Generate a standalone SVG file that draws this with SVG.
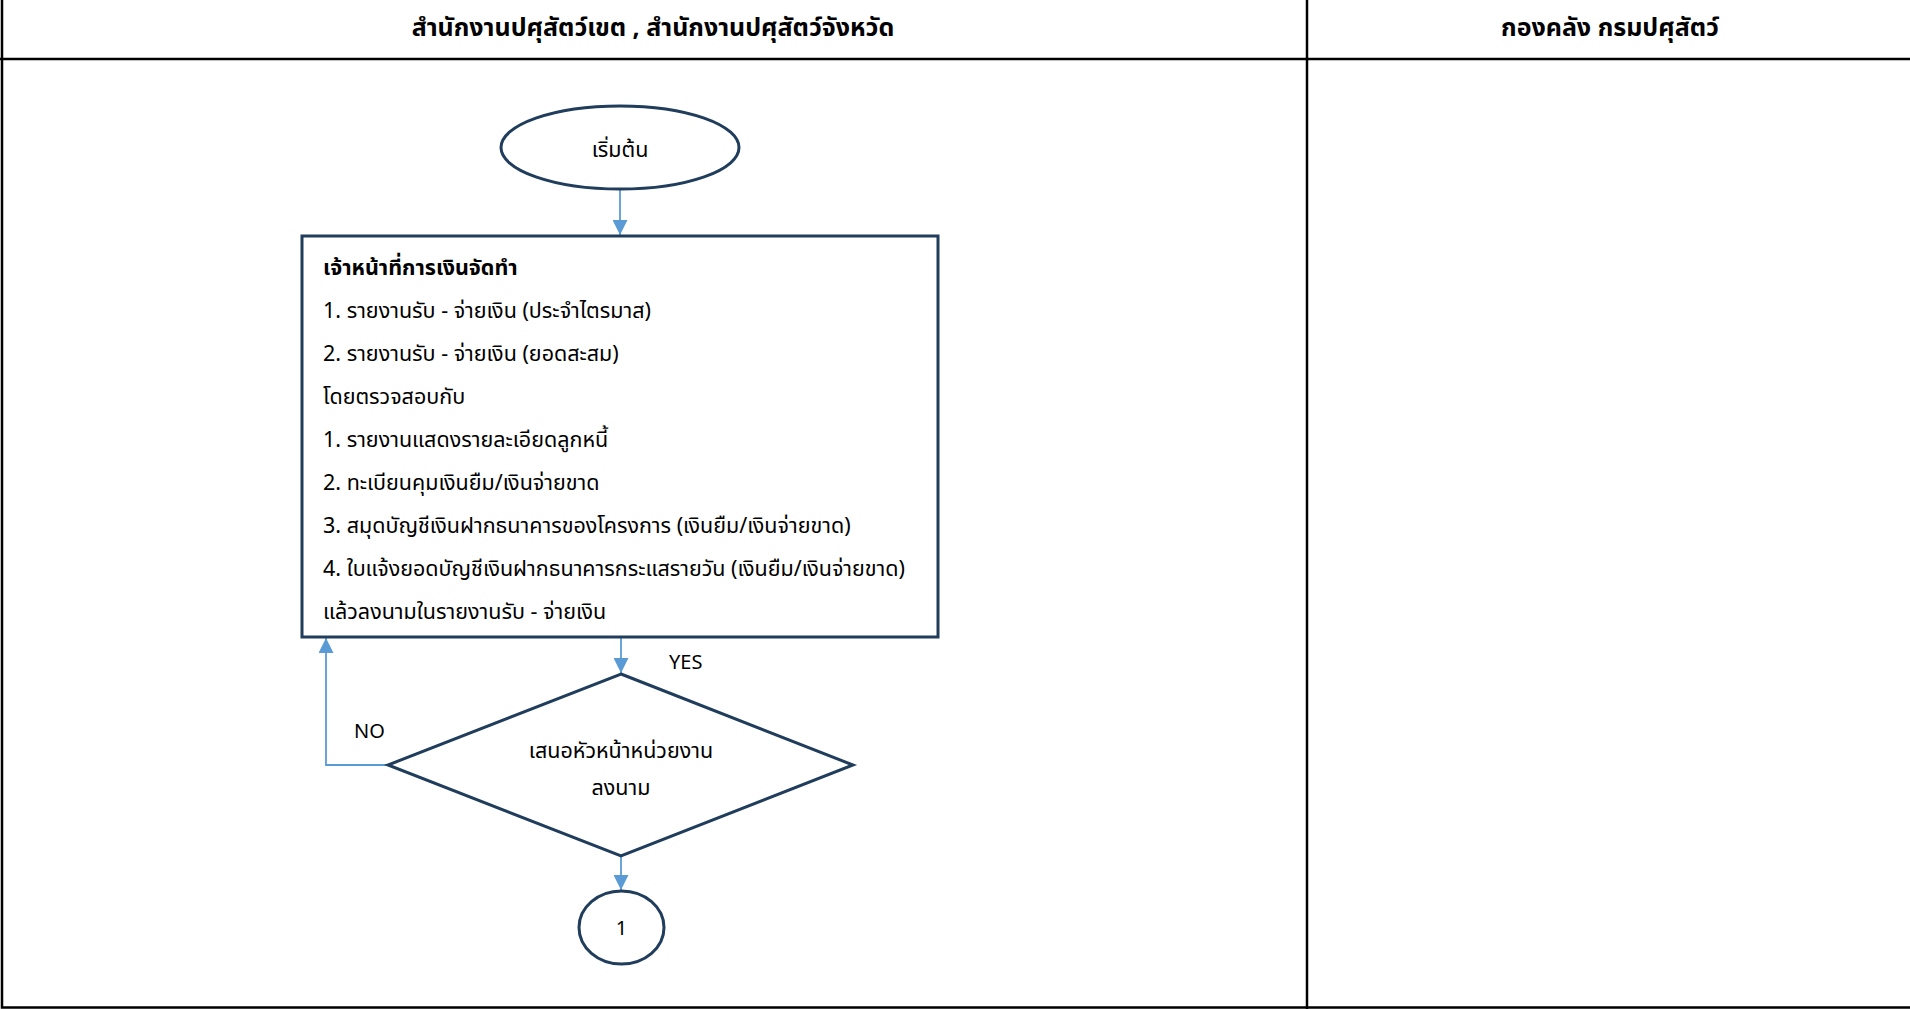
<svg xmlns="http://www.w3.org/2000/svg" width="1910" height="1009" viewBox="0 0 1910 1009">
<style>
.frame{stroke:#000;stroke-width:2.5;fill:none}
.shape{fill:#fff;stroke:#203d5c;stroke-width:3}
.conn{stroke:#5b9bd5;stroke-width:1.8;fill:none}
text{font-family:"Noto Sans","Noto Sans Thai","DejaVu Sans",sans-serif;fill:#000}
.hdr{font-size:25px;font-weight:bold;text-anchor:middle}
.t{font-size:21.5px}
.s{font-size:20px}
.c{text-anchor:middle}
.b{font-weight:bold}
</style>
<defs>
<marker id="ah" viewBox="0 0 10 10" refX="10" refY="5" markerWidth="15" markerHeight="15" markerUnits="userSpaceOnUse" orient="auto">
<path d="M0,0 L10,5 L0,10 z" fill="#5b9bd5"/>
</marker>
</defs>
<rect width="1910" height="1009" fill="#fff"/>
<g id="frame">
<polyline class="frame" points="2,0 2,1007.5 1910,1007.5"/>
<line class="frame" x1="0" y1="59" x2="1910" y2="59"/>
<line class="frame" x1="1307" y1="0" x2="1307" y2="1009"/>
<text class="hdr" x="653" y="36">สำนักงานปศุสัตว์เขต , สำนักงานปศุสัตว์จังหวัด</text>
<text class="hdr" x="1610" y="36">กองคลัง กรมปศุสัตว์</text>
</g>
<g id="connectors">
<line class="conn" x1="620" y1="189" x2="620" y2="235" marker-end="url(#ah)"/>
<line class="conn" x1="621" y1="638" x2="621" y2="673" marker-end="url(#ah)"/>
<polyline class="conn" points="388,765 326,765 326,638" marker-end="url(#ah)"/>
<line class="conn" x1="621" y1="856" x2="621" y2="890" marker-end="url(#ah)"/>
<text class="s" x="669" y="669">YES</text>
<text class="s" x="354" y="738">NO</text>
</g>
<g id="start">
<ellipse class="shape" cx="620" cy="147.5" rx="119" ry="41.5"/>
<text class="t c" x="620" y="157">เริ่มต้น</text>
</g>
<g id="process">
<rect class="shape" x="302" y="236" width="636" height="401"/>
<text class="t b" x="323" y="275">เจ้าหน้าที่การเงินจัดทำ</text>
<text class="t" x="323" y="318">1. รายงานรับ - จ่ายเงิน (ประจำไตรมาส)</text>
<text class="t" x="323" y="361">2. รายงานรับ - จ่ายเงิน (ยอดสะสม)</text>
<text class="t" x="323" y="404">โดยตรวจสอบกับ</text>
<text class="t" x="323" y="447">1. รายงานแสดงรายละเอียดลูกหนี้</text>
<text class="t" x="323" y="490">2. ทะเบียนคุมเงินยืม/เงินจ่ายขาด</text>
<text class="t" x="323" y="533">3. สมุดบัญชีเงินฝากธนาคารของโครงการ (เงินยืม/เงินจ่ายขาด)</text>
<text class="t" x="323" y="576">4. ใบแจ้งยอดบัญชีเงินฝากธนาคารกระแสรายวัน (เงินยืม/เงินจ่ายขาด)</text>
<text class="t" x="323" y="619">แล้วลงนามในรายงานรับ - จ่ายเงิน</text>
</g>
<g id="decision">
<polygon class="shape" points="621,674 853,765 621,856 388,765"/>
<text class="t c" x="621" y="758">เสนอหัวหน้าหน่วยงาน</text>
<text class="t c" x="621" y="795">ลงนาม</text>
</g>
<g id="connector1">
<ellipse class="shape" cx="621.5" cy="927.5" rx="42.5" ry="36.5"/>
<text class="s c" x="621.5" y="935">1</text>
</g>
</svg>
